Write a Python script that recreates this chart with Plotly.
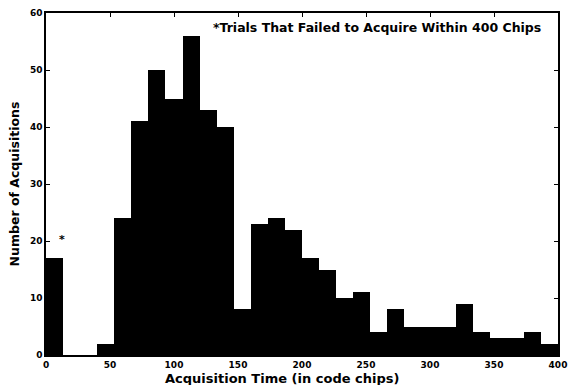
import numpy as np
import plotly.graph_objects as go

# Histogram of acquisition times (30 bins across 0-400 code chips)
bin_count = 30
x_max = 400
counts = [17, 0, 0, 2, 24, 41, 50, 45, 56, 43, 40, 8, 23, 24, 22,
          17, 15, 10, 11, 4, 8, 5, 5, 5, 9, 4, 3, 3, 4, 2]
x_ticks = [0, 50, 100, 150, 200, 250, 300, 350, 400]
y_ticks = [0, 10, 20, 30, 40, 50, 60]
note_text = "*Trials That Failed to Acquire Within 400 Chips"
x_title = "Acquisition Time (in code chips)"
y_title = "Number of Acquisitions"

width = x_max / bin_count
centers = (np.arange(bin_count) + 0.5) * width

FONT = "DejaVu Sans, Liberation Sans, Arial, sans-serif"

fig = go.Figure()
fig.add_trace(go.Bar(
    x=centers, y=counts, width=width,
    marker=dict(color="black", line=dict(width=0)),
    showlegend=False,
))

fig.add_annotation(x=0.97, y=0.985, xref="paper", yref="paper",
                   xanchor="right", yanchor="top", showarrow=False,
                   text=note_text,
                   font=dict(family=FONT, size=12.5, color="black", weight="bold"))
fig.add_annotation(x=12.3, y=20.2, xref="x", yref="y", showarrow=False,
                   text="*", font=dict(family=FONT, size=11, color="black", weight="bold"))
# x-axis title placed explicitly below the tick labels
fig.add_annotation(x=0.46, y=-0.068, xref="paper", yref="paper",
                   xanchor="center", yanchor="middle", showarrow=False,
                   text=x_title,
                   font=dict(family=FONT, size=13, color="black", weight="bold"))

axis_common = dict(
    showline=True, linecolor="black", linewidth=1.5, mirror="ticks",
    ticks="inside", ticklen=4, tickcolor="black", tickwidth=1,
    showgrid=False, zeroline=False, automargin=False,
    tickfont=dict(family=FONT, size=9, color="black", weight="bold"),
)

fig.update_layout(
    width=568, height=385,
    margin=dict(l=46, r=10, t=13, b=30),
    paper_bgcolor="white", plot_bgcolor="white",
    bargap=0,
    xaxis=dict(range=[0, x_max], tickvals=x_ticks, **axis_common),
    yaxis=dict(range=[0, 60], tickvals=y_ticks, **axis_common,
               title=dict(text=y_title, standoff=8,
                          font=dict(family=FONT, size=12.5, color="black", weight="bold"))),
)

fig.write_html("out.html", config={"displayModeBar": False},
               post_script="document.body.style.margin='0';document.body.style.overflow='hidden';")
